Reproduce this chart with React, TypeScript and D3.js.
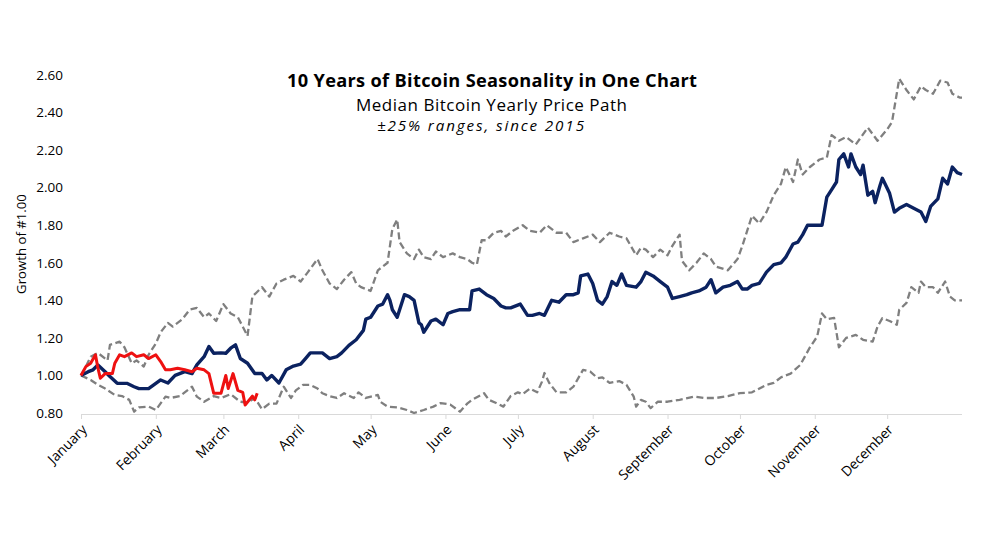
import React, { useRef, useEffect } from 'react';
import * as d3 from 'd3';

// month axis (day-of-year where each month starts)
const monthNames = ['January', 'February', 'March', 'April', 'May', 'June', 'July', 'August', 'September', 'October', 'November', 'December'];
const monthStartDays = [0, 31, 59, 90, 120, 151, 181, 212, 243, 273, 304, 334];
const yTicks = [0.8, 1.0, 1.2, 1.4, 1.6, 1.8, 2.0, 2.2, 2.4, 2.6];

// [day of year, growth of $1.00]
const medianPath: [number, number][] = [
  [0, 1.00], [3, 1.02], [5, 1.03], [7, 1.056], [10, 1.02], [12, 0.994], [15, 0.958], [19, 0.958], [22, 0.94], [24, 0.93],
  [28, 0.93], [31, 0.958], [33, 0.976], [36, 0.96], [39, 1.00], [43, 1.02], [46, 1.01], [48, 1.056], [51, 1.10], [53, 1.154],
  [55, 1.118], [58, 1.12], [60, 1.118], [62, 1.145], [64, 1.163], [66, 1.09], [69, 1.065], [72, 1.01], [75, 1.01], [77, 0.976],
  [79, 1.00], [82, 0.96], [85, 1.03], [88, 1.05], [91, 1.06],
  [93, 1.09], [95, 1.12], [98, 1.12], [100, 1.12], [103, 1.09], [106, 1.10], [108, 1.12], [111, 1.16], [114, 1.19], [117, 1.24],
  [118, 1.30], [120, 1.31], [123, 1.37], [125, 1.38], [127, 1.43], [128, 1.40], [129, 1.35], [131, 1.31], [132, 1.35], [134, 1.43],
  [136, 1.42], [138, 1.40], [140, 1.28], [141, 1.27], [142, 1.23], [145, 1.29], [147, 1.30], [150, 1.27], [152, 1.33], [154, 1.34],
  [157, 1.35], [161, 1.35], [162, 1.45], [165, 1.46], [168, 1.43], [171, 1.41], [174, 1.37], [176, 1.36], [178, 1.36], [182, 1.38],
  [185, 1.32], [187, 1.32], [190, 1.33], [192, 1.32], [195, 1.40], [198, 1.39], [201, 1.43], [204, 1.43], [206, 1.44], [207, 1.53],
  [210, 1.54], [212, 1.49], [214, 1.40], [216, 1.38], [218, 1.42], [220, 1.50], [222, 1.48], [224, 1.54], [226, 1.48], [230, 1.47],
  [232, 1.50], [234, 1.55], [237, 1.53], [240, 1.50], [243, 1.47], [245, 1.41], [248, 1.42], [251, 1.43], [253, 1.44], [256, 1.45],
  [259, 1.47], [261, 1.51], [263, 1.44], [266, 1.47], [269, 1.48], [272, 1.50], [274, 1.46], [276, 1.46], [278, 1.48], [281, 1.49],
  [284, 1.55], [287, 1.59], [290, 1.60], [292, 1.63], [295, 1.70], [297, 1.71], [299, 1.75], [301, 1.80], [304, 1.80], [307, 1.80],
  [309, 1.95], [311, 1.99], [313, 2.03], [314, 2.15], [316, 2.18], [318, 2.11], [319, 2.18], [321, 2.11], [323, 2.07], [324, 2.12],
  [326, 1.96], [328, 1.98], [329, 1.92], [331, 2.01], [332, 2.05], [335, 1.97], [337, 1.87], [339, 1.89], [342, 1.91], [345, 1.89],
  [348, 1.87], [350, 1.82], [352, 1.90], [355, 1.94], [357, 2.05], [359, 2.02], [361, 2.11], [363, 2.08], [365, 2.07],
];

const upperBand: [number, number][] = [
  [0, 1.00], [2, 1.047], [4, 1.10], [7, 1.12], [11, 1.08], [12, 1.163], [16, 1.18], [18, 1.15], [21, 1.065], [23, 1.08],
  [26, 1.047], [28, 1.11], [31, 1.17], [33, 1.23], [36, 1.28], [38, 1.26], [42, 1.30], [45, 1.35], [48, 1.36], [51, 1.31],
  [53, 1.33], [56, 1.29], [59, 1.38], [62, 1.33], [65, 1.31], [67, 1.26], [69, 1.21], [71, 1.42], [75, 1.47], [78, 1.42],
  [81, 1.49], [84, 1.51], [88, 1.53], [91, 1.50], [94, 1.55], [98, 1.62], [100, 1.56], [103, 1.49], [106, 1.46], [109, 1.51],
  [112, 1.55], [114, 1.49], [116, 1.47], [120, 1.45], [123, 1.56], [127, 1.60], [129, 1.78], [131, 1.83], [132, 1.71], [135, 1.65],
  [138, 1.62], [140, 1.67], [142, 1.63], [145, 1.62], [147, 1.66], [150, 1.63], [154, 1.65], [157, 1.63], [160, 1.62], [162, 1.60],
  [164, 1.59], [166, 1.72], [168, 1.72], [171, 1.76], [174, 1.77], [176, 1.74], [179, 1.77], [183, 1.80], [186, 1.77], [190, 1.76],
  [193, 1.80], [197, 1.76], [201, 1.76], [204, 1.71], [208, 1.73], [212, 1.75], [215, 1.71], [219, 1.76], [223, 1.74], [226, 1.73],
  [230, 1.64], [232, 1.68], [234, 1.67], [237, 1.63], [240, 1.67], [243, 1.64], [245, 1.69], [248, 1.75], [249, 1.61], [252, 1.56],
  [255, 1.60], [258, 1.65], [261, 1.62], [263, 1.58], [268, 1.56], [272, 1.62], [274, 1.69], [278, 1.85], [281, 1.81], [284, 1.87],
  [287, 1.96], [290, 2.02], [292, 2.11], [295, 2.03], [297, 2.15], [299, 2.07], [302, 2.11], [306, 2.15], [309, 2.16], [311, 2.28],
  [314, 2.25], [317, 2.27], [321, 2.23], [326, 2.32], [330, 2.25], [334, 2.31], [336, 2.35], [339, 2.58], [342, 2.52], [345, 2.47],
  [348, 2.54], [350, 2.52], [353, 2.50], [356, 2.57], [359, 2.56], [361, 2.50], [364, 2.48], [365, 2.48],
];

const lowerBand: [number, number][] = [
  [0, 1.00], [4, 0.976], [7, 0.95], [10, 0.93], [14, 0.896], [17, 0.89], [20, 0.87], [22, 0.807], [24, 0.83], [28, 0.834],
  [31, 0.816], [35, 0.887], [37, 0.88], [41, 0.89], [46, 0.94], [48, 0.887], [51, 0.86], [55, 0.89], [58, 0.88], [62, 0.90],
  [66, 0.86], [69, 0.855], [72, 0.88], [75, 0.82], [78, 0.85], [81, 0.85],
  [84, 0.94], [87, 0.88], [89, 0.92], [92, 0.95], [95, 0.95], [98, 0.93], [100, 0.905], [103, 0.89], [106, 0.88], [109, 0.905],
  [113, 0.88], [115, 0.91], [118, 0.88], [123, 0.896], [124, 0.86], [127, 0.834], [131, 0.83], [135, 0.816], [138, 0.80], [142, 0.816],
  [146, 0.834], [149, 0.853], [153, 0.845], [157, 0.807], [160, 0.85], [162, 0.87], [167, 0.905], [169, 0.87], [172, 0.853], [175, 0.834],
  [178, 0.89], [181, 0.91], [183, 0.90], [186, 0.93], [189, 0.91], [191, 0.967], [192, 1.013], [194, 0.96], [197, 0.91], [201, 0.91],
  [204, 0.94], [208, 1.03], [211, 1.02], [214, 0.986], [216, 0.99], [219, 0.96], [223, 0.97], [226, 0.95], [229, 0.887], [230, 0.834],
  [232, 0.87], [234, 0.86], [236, 0.826], [239, 0.86], [243, 0.86], [248, 0.87], [254, 0.887], [258, 0.88], [263, 0.88], [268, 0.89],
  [273, 0.906], [278, 0.91], [284, 0.95], [287, 0.96], [290, 0.99], [294, 1.01], [298, 1.056], [302, 1.15], [305, 1.207], [307, 1.33],
  [309, 1.30], [312, 1.307], [314, 1.15], [317, 1.20], [321, 1.216], [324, 1.19], [328, 1.18], [330, 1.26], [332, 1.305], [335, 1.29],
  [338, 1.27], [339, 1.35], [342, 1.386], [344, 1.47], [347, 1.44], [348, 1.50], [350, 1.47], [353, 1.47], [355, 1.44], [358, 1.50],
  [360, 1.42], [362, 1.40], [365, 1.40],
];

// current year to date
const ytdPath: [number, number][] = [
  [0, 1.00], [2, 1.047], [4, 1.065], [6, 1.11], [7, 1.04], [8, 0.985], [10, 1.01], [13, 1.01], [14, 1.065], [16, 1.11],
  [18, 1.10], [21, 1.12], [23, 1.10], [26, 1.11], [28, 1.09], [31, 1.11], [33, 1.074], [35, 1.03], [37, 1.03], [40, 1.038],
  [43, 1.03], [46, 1.02], [48, 1.038], [51, 1.03], [53, 1.01], [55, 0.905], [58, 0.905], [60, 1.00], [61, 0.93], [63, 1.01],
  [65, 0.92], [67, 0.91], [68, 0.843], [71, 0.89], [72, 0.87], [73, 0.905],
];

const FONT = '"Open Sans", "Noto Sans", sans-serif';

const App = () => {
  const ref = useRef<SVGSVGElement>(null);

  useEffect(() => {
    if (!ref.current) return;
    const svg = d3.select(ref.current);
    svg.selectAll('*').remove();

    const x = d3.scaleLinear().domain([0, 365]).range([81, 962]);
    const y = d3.scaleLinear().domain([0.8, 2.6]).range([413, 75]);

    // titles
    const titles = svg.append('g').attr('font-family', FONT).attr('text-anchor', 'middle').attr('fill', '#000');
    titles.append('text').attr('x', 492).attr('y', 87).attr('font-size', 18.2).attr('font-weight', 700)
      .attr('textLength', 410).attr('lengthAdjust', 'spacing')
      .text('10 Years of Bitcoin Seasonality in One Chart');
    titles.append('text').attr('x', 491.5).attr('y', 110.5).attr('font-size', 17)
      .attr('textLength', 271).attr('lengthAdjust', 'spacing')
      .text('Median Bitcoin Yearly Price Path');
    titles.append('text').attr('x', 480.5).attr('y', 131).attr('font-size', 15.2).attr('font-style', 'italic')
      .attr('textLength', 207).attr('lengthAdjust', 'spacing')
      .text('±25% ranges, since 2015');

    // y axis (labels only)
    const yAxis = svg.append('g')
      .attr('transform', 'translate(64,0)')
      .call(d3.axisLeft(y).tickValues(yTicks).tickSize(0).tickPadding(1).tickFormat(d => d3.format('.2f')(d as number)));
    yAxis.select('.domain').remove();
    yAxis.selectAll('text').attr('font-family', FONT).attr('font-size', 13.5).attr('fill', '#000');

    svg.append('text')
      .attr('transform', 'translate(26,244) rotate(-90)')
      .attr('text-anchor', 'middle')
      .attr('font-family', FONT).attr('font-size', 13.2)
      .text('Growth of #1.00');

    // x axis
    const xAxis = svg.append('g')
      .attr('transform', 'translate(0,414)')
      .call(d3.axisBottom(x).tickValues(monthStartDays).tickSize(5).tickSizeOuter(0)
        .tickFormat((_d, i) => monthNames[i]));
    xAxis.select('.domain').attr('stroke', '#d9d9d9').attr('d', `M${x(0)},0.5H${x(365)}`);
    xAxis.selectAll('.tick line').attr('stroke', '#d9d9d9');
    xAxis.selectAll('.tick text')
      .attr('font-family', FONT).attr('font-size', 13.8).attr('fill', '#000')
      .attr('text-anchor', 'end')
      .attr('x', 0).attr('y', 0).attr('dy', '0.35em')
      .attr('transform', 'translate(3,13) rotate(-45)');

    const line = d3.line<[number, number]>().x(d => x(d[0])).y(d => y(d[1]));

    [upperBand, lowerBand].forEach(band => {
      svg.append('path').datum(band)
        .attr('fill', 'none').attr('stroke', '#7f7f7f').attr('stroke-width', 2.3)
        .attr('stroke-dasharray', '7,3.5').attr('stroke-linejoin', 'round')
        .attr('d', line);
    });

    svg.append('path').datum(medianPath)
      .attr('fill', 'none').attr('stroke', '#0b2260').attr('stroke-width', 3.4)
      .attr('stroke-linejoin', 'round').attr('d', line);

    svg.append('path').datum(ytdPath)
      .attr('fill', 'none').attr('stroke', '#ee1111').attr('stroke-width', 3)
      .attr('stroke-linejoin', 'round').attr('d', line);
  }, []);

  return (
    <svg ref={ref} width={984} height={554}
      style={{ position: 'fixed', left: 0, top: 0, background: '#fff' }} />
  );
};

export default App;
